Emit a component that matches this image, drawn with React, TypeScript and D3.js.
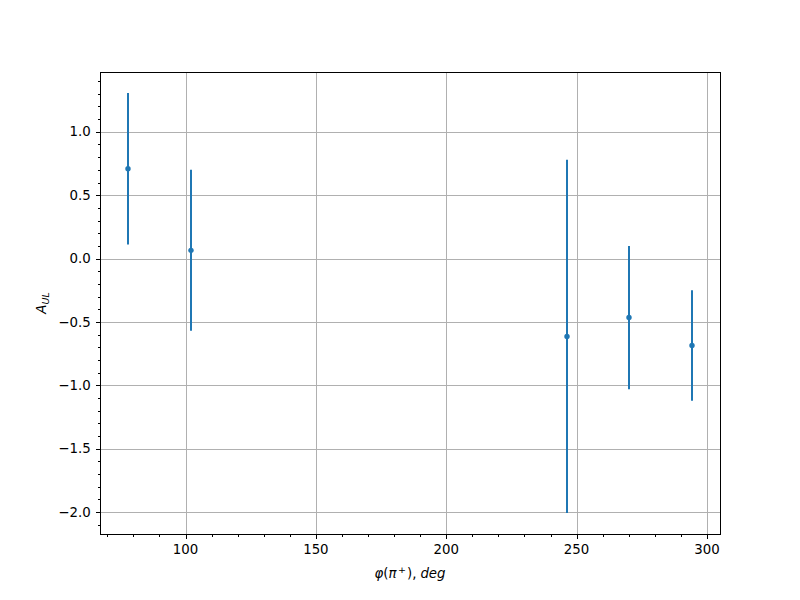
import React from "react";
import * as d3 from "d3";

const phiDeg = [78, 102, 246.3, 270.1, 294.2];
const aUL = [0.708, 0.065, -0.614, -0.465, -0.686];
const aErr = [0.598, 0.635, 1.393, 0.565, 0.436];
const xTicks = [100, 150, 200, 250, 300];
const yTicks = [-2.0, -1.5, -1.0, -0.5, 0.0, 0.5, 1.0];

const W = 800, H = 600;
const L = 100, R = 720, T = 72, B = 534;
const color = "#1f77b4";
const font = "DejaVu Sans, sans-serif";

const snap = (v: number) => Math.round(v) + 0.5;

export default function App() {
  const xmin = d3.min(phiDeg)!, xmax = d3.max(phiDeg)!;
  const xm = (xmax - xmin) * 0.05;
  const lows = aUL.map((v, i) => v - aErr[i]);
  const highs = aUL.map((v, i) => v + aErr[i]);
  const ymin = d3.min(lows)!, ymax = d3.max(highs)!;
  const ym = (ymax - ymin) * 0.05;
  const x = d3.scaleLinear().domain([xmin - xm, xmax + xm]).range([L, R]);
  const y = d3.scaleLinear().domain([ymin - ym, ymax + ym]).range([B, T]);

  const [x0, x1] = x.domain();
  const xMinor = d3.range(Math.ceil(x0 / 10) * 10, x1, 10).filter((v) => v % 50 !== 0);
  const [y0, y1] = y.domain();
  const yMinor = d3
    .range(Math.ceil(y0 * 10), Math.floor(y1 * 10) + 1)
    .filter((v) => v % 5 !== 0)
    .map((v) => v / 10);

  const fmt = (v: number) => (v < 0 ? "\u2212" : "") + Math.abs(v).toFixed(1);
  const fL = snap(L), fR = snap(R), fT = snap(T), fB = snap(B);

  return (
    <svg width={W} height={H} style={{ display: "block", position: "absolute", left: 0, top: 0 }} fontFamily={font}>
      <rect x={0} y={0} width={W} height={H} fill="white" />
      {/* grid */}
      {xTicks.map((t) => (
        <line key={"gx" + t} x1={snap(x(t))} x2={snap(x(t))} y1={fT} y2={fB} stroke="#b0b0b0" strokeWidth={1} />
      ))}
      {yTicks.map((t) => (
        <line key={"gy" + t} x1={fL} x2={fR} y1={snap(y(t))} y2={snap(y(t))} stroke="#b0b0b0" strokeWidth={1} />
      ))}
      {/* error bars */}
      {phiDeg.map((p, i) => (
        <line key={"e" + i} x1={Math.round(x(p))} x2={Math.round(x(p))} y1={y(lows[i])} y2={y(highs[i])} stroke={color} strokeWidth={2} />
      ))}
      {phiDeg.map((p, i) => (
        <circle key={"m" + i} cx={Math.round(x(p))} cy={y(aUL[i])} r={2.7} fill={color} />
      ))}
      {/* axes frame */}
      <rect x={fL} y={fT} width={fR - fL} height={fB - fT} fill="none" stroke="black" strokeWidth={1} />
      {/* x ticks */}
      {xTicks.map((t) => (
        <g key={"xt" + t}>
          <line x1={snap(x(t))} x2={snap(x(t))} y1={fB} y2={fB + 4.5} stroke="black" strokeWidth={1} />
          <text x={x(t)} y={B + 4.67 + 4.67 + 10.5} textAnchor="middle" fontSize={13.33}>
            {String(t)}
          </text>
        </g>
      ))}
      {xMinor.map((t) => (
        <line key={"xm" + t} x1={snap(x(t))} x2={snap(x(t))} y1={fB} y2={fB + 2.5} stroke="black" strokeWidth={1} />
      ))}
      {/* y ticks */}
      {yTicks.map((t) => (
        <g key={"yt" + t}>
          <line x1={fL - 4.5} x2={fL} y1={snap(y(t))} y2={snap(y(t))} stroke="black" strokeWidth={1} />
          <text x={L - 4.67 - 4.67} y={y(t)} dy="0.35em" textAnchor="end" fontSize={13.33}>
            {fmt(t)}
          </text>
        </g>
      ))}
      {yMinor.map((t) => (
        <line key={"ym" + t} x1={fL - 2.5} x2={fL} y1={snap(y(t))} y2={snap(y(t))} stroke="black" strokeWidth={1} />
      ))}
      {/* x label */}
      <text x={(L + R) / 2} y={578} textAnchor="middle" fontSize={13.33}>
        <tspan fontStyle="italic">φ</tspan>
        <tspan>(</tspan>
        <tspan fontStyle="italic">π</tspan>
        <tspan fontSize={9.5} dy={-5} dx={1.5}>+</tspan>
        <tspan dy={5} dx={1}>),</tspan>
        <tspan fontStyle="italic" dx={4}>deg</tspan>
      </text>
      {/* y label */}
      <text transform={`translate(46, ${(T + B) / 2}) rotate(-90)`} textAnchor="middle" fontSize={13.33}>
        <tspan fontStyle="italic">A</tspan>
        <tspan fontStyle="italic" fontSize={9.5} dy={3}>UL</tspan>
      </text>
    </svg>
  );
}
